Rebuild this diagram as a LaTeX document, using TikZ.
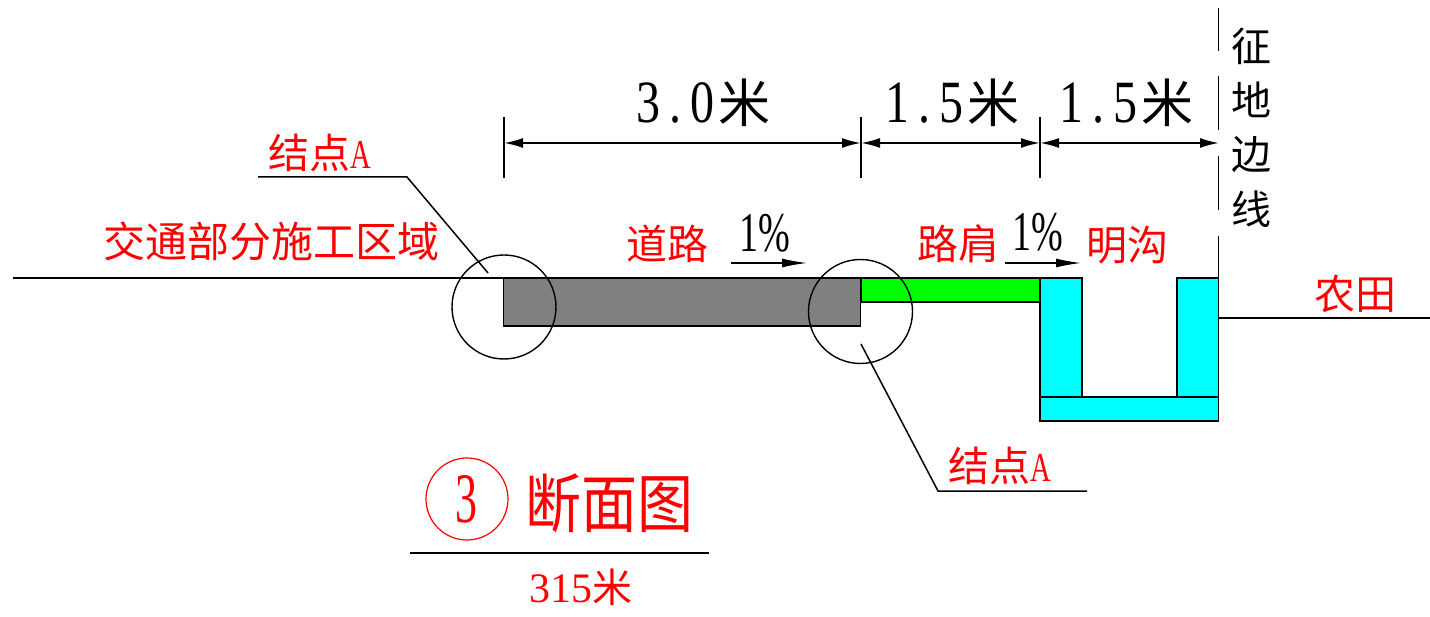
\documentclass[tikz,border=0pt]{standalone}
\usepackage{fontspec}
\usepackage{graphicx}
\setmainfont{Liberation Serif}
\newfontfamily\cjk{Noto Sans CJK SC}
\usetikzlibrary{arrows.meta}
\definecolor{roadgray}{RGB}{128,128,128}
\definecolor{ditchcyan}{RGB}{0,255,255}
\definecolor{shouldergreen}{RGB}{0,255,0}
\tikzset{
  x=1pt,y=-1pt,
  ln/.style={line width=1.5pt,black},
  dimarrow/.style={line width=2pt,{Latex[length=19pt,width=10pt]}-{Latex[length=19pt,width=10pt]}},
  slopearrow/.style={line width=1.3pt,-{Latex[length=25pt,width=9pt]}},
  part/.style={draw=black,line width=1.6pt,outer sep=0pt,inner sep=0pt,anchor=north west},
  redlabel/.style={inner sep=0pt,text=red,font=\fontsize{41}{41}\selectfont\cjk},
  dimlabel/.style={inner sep=0pt,font=\fontsize{60}{60}\selectfont},
  pct/.style={inner sep=0pt,font=\fontsize{56}{56}\selectfont},
  side/.style={inner sep=0pt,font=\fontsize{40}{40}\selectfont\cjk}
}
\newcommand{\dimtext}[2]{\scalebox{.8}[1]{#1}\makebox[30pt][c]{\scalebox{.8}[1]{.}}\scalebox{.8}[1]{#2}\hspace{4pt}{\cjk\fontsize{52}{52}\selectfont 米}}
\begin{document}
\begin{tikzpicture}
\useasboundingbox (0,0) rectangle (1430,617);
% fills
\node[part,fill=roadgray,minimum width=357pt,minimum height=48pt] (road) at (503.5,278) {};
\node[part,fill=shouldergreen,minimum width=179pt,minimum height=24pt] (shoulder) at (861,278) {};
\node[part,fill=ditchcyan,minimum width=42pt,minimum height=119pt] (wallL) at (1040,278) {};
\node[part,fill=ditchcyan,minimum width=41.5pt,minimum height=119pt] (wallR) at (1177,278) {};
\node[part,fill=ditchcyan,minimum width=178.5pt,minimum height=24pt] (base) at (1040,397) {};
% ground
\coordinate (gl) at (13,278);
\coordinate (gr) at (1430,318);
\coordinate (wr) at (1218.5,318);
\draw[ln] (gl) -- (road.north west);
\draw[ln] (wr) -- (gr);
% boundary line
\foreach \a/\b/\n in {8/51/a,76/130/b,156/210/c,236/278/d}{
  \coordinate (bt\n) at (1218.5,\a);
  \coordinate (bb\n) at (1218.5,\b);
  \draw[ln] (bt\n) -- (bb\n);
}
% dimension ticks
\foreach \x/\n in {504/a,861/b,1040/c}{
  \coordinate (tt\n) at (\x,117);
  \coordinate (tb\n) at (\x,178);
  \draw[ln] (tt\n) -- (tb\n);
}
\coordinate (da) at (504,143);
\coordinate (db) at (861,143);
\coordinate (dc) at (1040,143);
\coordinate (dd) at (1219,143);
\draw[dimarrow] (da) -- (db);
\draw[dimarrow] (db) -- (dc);
\draw[dimarrow] (dc) -- (dd);
% detail circles
\node[draw,circle,line width=1.4pt,minimum size=104pt,inner sep=0pt] (c1) at (504,307) {};
\node[draw,circle,line width=1.4pt,minimum size=104pt,inner sep=0pt] (c2) at (860.5,311.5) {};
% leaders
\coordinate (l1a) at (258,177);\coordinate (l1b) at (407,177);\coordinate (l1c) at (488,273);
\draw[ln] (l1a) -- (l1b) -- (l1c);
\coordinate (l2a) at (861,344);\coordinate (l2b) at (938,491);\coordinate (l2c) at (1087,491);
\draw[ln] (l2a) -- (l2b) -- (l2c);
% slopes
\coordinate (s1a) at (731,263);\coordinate (s1b) at (807,263);
\coordinate (s2a) at (1005,263);\coordinate (s2b) at (1081,263);
\draw[slopearrow] (s1a) -- (s1b);
\draw[slopearrow] (s2a) -- (s2b);
% texts
\node[dimlabel] (t30) at (703,103) {\dimtext{3}{0}};
\node[dimlabel] (t15a) at (952,103) {\dimtext{1}{5}};
\node[dimlabel] (t15b) at (1126,103) {\dimtext{1}{5}};
\node[pct] (p1) at (765,233) {\scalebox{.68}[1]{1\%}};
\node[pct] (p2) at (1038,232) {\scalebox{.68}[1]{1\%}};
\node[side] (z1) at (1251,46) {征};
\node[side] (z2) at (1251,100) {地};
\node[side] (z3) at (1251,155) {边};
\node[side] (z4) at (1251,209) {线};
\node[redlabel] (r1) at (320,153) {结点\scalebox{.7}[1]{\rmfamily A}};
\node[redlabel,font=\fontsize{42}{42}\selectfont\cjk] (r2) at (271,241) {交通部分施工区域};
\node[redlabel] (r3) at (667,244) {道路};
\node[redlabel] (r4) at (958,244) {路肩};
\node[redlabel] (r5) at (1127,245) {明沟};
\node[redlabel] (r6) at (1355,294) {农田};
\node[redlabel] (r7) at (1000,466) {结点\scalebox{.7}[1]{\rmfamily A}};
\node[draw=red,circle,line width=1.2pt,minimum size=82pt,inner sep=0pt,text=red,font=\fontsize{71}{71}\selectfont] (n3) at (467,499) {\scalebox{.62}[1]{3}};
\node[inner sep=0pt,text=red,font=\fontsize{56}{56}\selectfont\cjk] (title) at (609,503) {\scalebox{1}[1.14]{断面图}};
\coordinate (ua) at (410,553);\coordinate (ub) at (709,553);
\draw[line width=1.8pt] (ua) -- (ub);
\node[inner sep=0pt,text=red,font=\fontsize{42}{42}\selectfont] (s315) at (581,587) {315{\cjk\fontsize{40}{40}\selectfont 米}};
\end{tikzpicture}
\end{document}
